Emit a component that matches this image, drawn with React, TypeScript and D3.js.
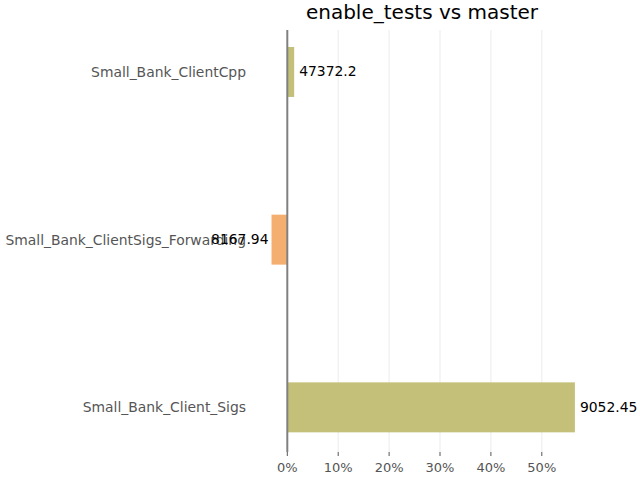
import React from "react";
import * as d3 from "d3";

const categories = ["Small_Bank_ClientCpp", "Small_Bank_ClientSigs_Forwarding", "Small_Bank_Client_Sigs"];
const pctChange = [1.35, -3.1, 56.5];
const valueLabels = ["47372.2", "8167.94", "9052.45"];
const barColors = ["#c4bf79", "#f4ae6f", "#c4bf79"];
const xTicks = [0, 10, 20, 30, 40, 50];
const title = "enable_tests vs master";

export default function App() {
  const W = 640, H = 480;
  const top = 30, bottom = 452;
  const x = d3.scaleLinear().domain([0, 10]).range([287.3, 338.2]);
  const y = d3.scaleBand<string>().domain(categories).range([30.2, 449.1]).paddingInner(0.702).paddingOuter(0.1);
  const font = "DejaVu Sans, sans-serif";
  return (
    <svg width={W} height={H} style={{ position: "absolute", left: 0, top: 0 }} fontFamily={font}>
      <rect width={W} height={H} fill="#fff" />
      {xTicks.filter(t => t !== 0).map(t => (
        <line key={"g" + t} x1={x(t)} x2={x(t)} y1={top} y2={bottom} stroke="#ebebeb" strokeWidth={1} />
      ))}
      {categories.map((c, i) => {
        const v = pctChange[i];
        const x0 = x(Math.min(0, v));
        const x1 = x(Math.max(0, v));
        const yy = y(c)!;
        const cy = yy + y.bandwidth() / 2;
        return (
          <g key={c}>
            <rect x={x0} y={yy} width={x1 - x0} height={y.bandwidth()} fill={barColors[i]} />
            <text x={246} y={cy} dy="0.35em" textAnchor="end" fontSize={13.9} fill="#555">{c}</text>
            <text x={v >= 0 ? x1 + 5 : x0 - 3} y={cy} dy="0.3em" textAnchor={v >= 0 ? "start" : "end"} fontSize={13.9} fill="#000">{valueLabels[i]}</text>
          </g>
        );
      })}
      <line x1={x(0)} x2={x(0)} y1={top} y2={bottom} stroke="#808080" strokeWidth={2} />
      {xTicks.map(t => (
        <g key={"t" + t}>
          <line x1={x(t)} x2={x(t)} y1={bottom} y2={bottom + 4} stroke="#555" strokeWidth={1} />
          <text x={x(t)} y={bottom + 20} textAnchor="middle" fontSize={13} fill="#555">{t + "%"}</text>
        </g>
      ))}
      <text x={422} y={19} textAnchor="middle" fontSize={20} fill="#000">{title}</text>
    </svg>
  );
}
